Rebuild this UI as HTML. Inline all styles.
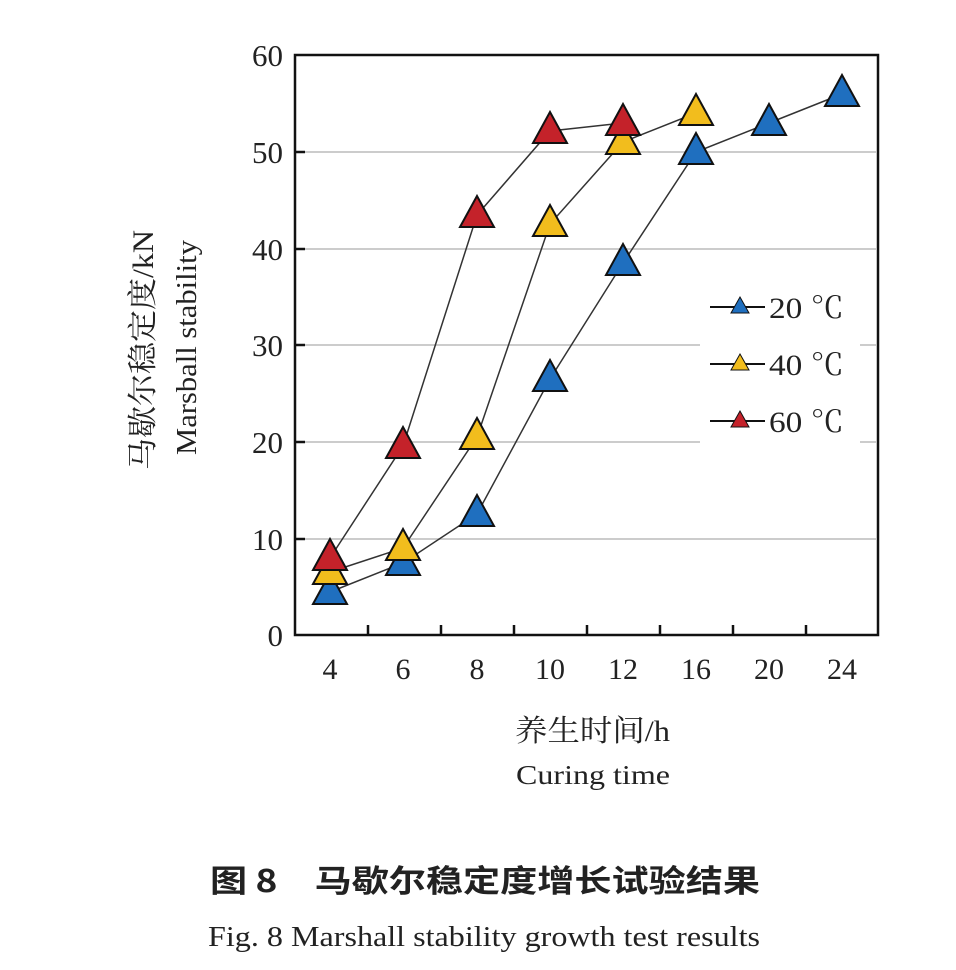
<!DOCTYPE html>
<html><head><meta charset="utf-8"><style>
body{margin:0;background:#fff;width:956px;height:965px;overflow:hidden}
text{font-family:"Liberation Serif","Noto Serif CJK SC",serif;fill:#222}
</style></head><body>
<svg width="956" height="965" viewBox="0 0 956 965" xmlns="http://www.w3.org/2000/svg">
<defs>
<g id="tri"><polygon points="0,-19 17,12 -17,12" stroke="#111" stroke-width="2"/></g>
</defs>
<g stroke="#ccc" stroke-width="2">
<line x1="297" y1="152" x2="876" y2="152"/><line x1="297" y1="249" x2="876" y2="249"/>
<line x1="297" y1="345" x2="876" y2="345"/><line x1="297" y1="442" x2="876" y2="442"/>
<line x1="297" y1="539" x2="876" y2="539"/>
</g>
<rect x="700" y="285" width="160" height="160" fill="#fff"/>
<rect x="295" y="55" width="583" height="580" fill="none" stroke="#111" stroke-width="2.5"/>
<g stroke="#111" stroke-width="2.5">
<line x1="295" y1="152" x2="305" y2="152"/><line x1="295" y1="249" x2="305" y2="249"/>
<line x1="295" y1="345" x2="305" y2="345"/><line x1="295" y1="442" x2="305" y2="442"/>
<line x1="295" y1="539" x2="305" y2="539"/>
<line x1="368" y1="635" x2="368" y2="625"/><line x1="441" y1="635" x2="441" y2="625"/>
<line x1="514" y1="635" x2="514" y2="625"/><line x1="587" y1="635" x2="587" y2="625"/>
<line x1="660" y1="635" x2="660" y2="625"/><line x1="733" y1="635" x2="733" y2="625"/>
<line x1="806" y1="635" x2="806" y2="625"/>
</g>
<g font-size="31" text-anchor="end">
<text x="283" y="66">60</text><text x="283" y="163">50</text><text x="283" y="260">40</text>
<text x="283" y="356">30</text><text x="283" y="453">20</text><text x="283" y="550">10</text>
<text x="283" y="646">0</text>
</g>
<g font-size="30" text-anchor="middle">
<text x="330" y="679">4</text><text x="403" y="679">6</text><text x="477" y="679">8</text>
<text x="550" y="679">10</text><text x="623" y="679">12</text><text x="696" y="679">16</text>
<text x="769" y="679">20</text><text x="842" y="679">24</text>
</g>
<text x="515" y="741" font-size="30" textLength="155" lengthAdjust="spacingAndGlyphs">养生时间/h</text>
<text x="516" y="784" font-size="27" textLength="154" lengthAdjust="spacingAndGlyphs">Curing time</text>
<text transform="translate(153,470) rotate(-90)" font-size="30" textLength="240" lengthAdjust="spacingAndGlyphs">马歇尔稳定度/kN</text>
<text transform="translate(196,455) rotate(-90)" font-size="28" textLength="215" lengthAdjust="spacingAndGlyphs">Marsball stability</text>
<g fill="none" stroke="#333" stroke-width="1.5">
<polyline points="330,592 403,563 477,514 550,379 623,263 696,152 769,123 842,94"/>
<polyline points="330,572 403,548 477,437 550,224 623,142 696,113"/>
<polyline points="330,558 403,446 477,215 550,131 623,123"/>
</g>
<g fill="#1f6fbf">
<use href="#tri" x="330" y="592"/><use href="#tri" x="403" y="563"/><use href="#tri" x="477" y="514"/>
<use href="#tri" x="550" y="379"/><use href="#tri" x="623" y="263"/><use href="#tri" x="696" y="152"/>
<use href="#tri" x="769" y="123"/><use href="#tri" x="842" y="94"/>
</g>
<g fill="#f2bd1d">
<use href="#tri" x="330" y="572"/><use href="#tri" x="403" y="548"/><use href="#tri" x="477" y="437"/>
<use href="#tri" x="550" y="224"/><use href="#tri" x="623" y="142"/><use href="#tri" x="696" y="113"/>
</g>
<g fill="#c4222a">
<use href="#tri" x="330" y="558"/><use href="#tri" x="403" y="446"/><use href="#tri" x="477" y="215"/>
<use href="#tri" x="550" y="131"/><use href="#tri" x="623" y="123"/>
</g>
<g stroke="#111" stroke-width="2">
<line x1="710" y1="307" x2="765" y2="307"/><line x1="710" y1="364" x2="765" y2="364"/><line x1="710" y1="421" x2="765" y2="421"/>
</g>
<polygon points="740,297 749,313 731,313" fill="#1f6fbf" stroke="#111" stroke-width="1"/>
<polygon points="740,354 749,370 731,370" fill="#f2bd1d" stroke="#111" stroke-width="1"/>
<polygon points="740,411 749,427 731,427" fill="#c4222a" stroke="#111" stroke-width="1"/>
<g font-size="30"><text x="769" y="318" textLength="75" lengthAdjust="spacingAndGlyphs">20 ℃</text><text x="769" y="375" textLength="75" lengthAdjust="spacingAndGlyphs">40 ℃</text><text x="769" y="432" textLength="75" lengthAdjust="spacingAndGlyphs">60 ℃</text></g>
<text x="210" y="892" font-size="31" font-weight="bold" textLength="550" lengthAdjust="spacingAndGlyphs" style="font-family:'Noto Sans CJK SC',sans-serif">图 8　马歇尔稳定度增长试验结果</text>
<text x="208" y="946" font-size="28" textLength="552" lengthAdjust="spacingAndGlyphs">Fig. 8 Marshall stability growth test results</text>
</svg>
</body></html>
